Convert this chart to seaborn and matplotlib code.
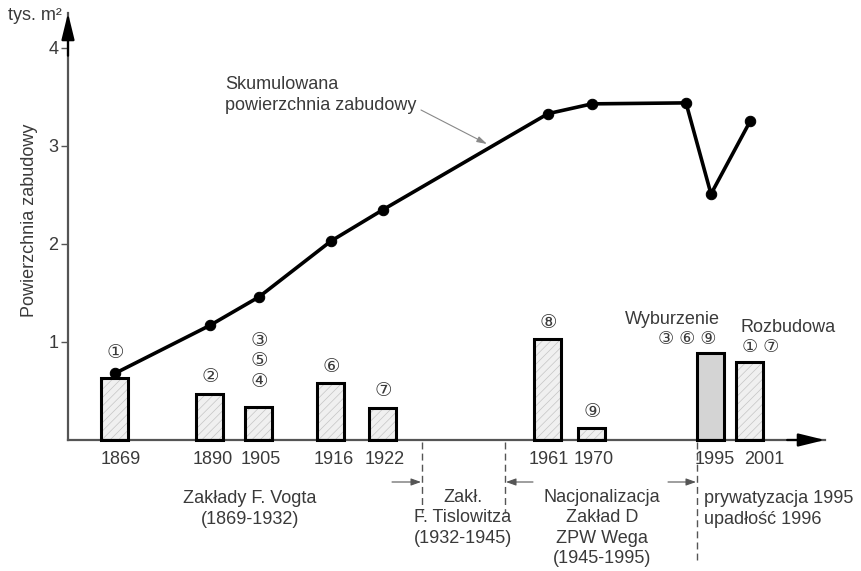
import matplotlib
matplotlib.use("Agg")
import matplotlib.pyplot as plt
import matplotlib.transforms as mtransforms
from matplotlib.lines import Line2D
from matplotlib.patches import Rectangle
import seaborn as sns
import pandas as pd

# ==== DATA ====
bar_years = [1869, 1890, 1905, 1916, 1922, 1961, 1970, 1995, 2001]
bar_values = [0.63, 0.47, 0.34, 0.58, 0.33, 1.03, 0.12, 0.89, 0.80]
bar_kind = ["budowa"] * 7 + ["wyburzenie", "budowa"]
bar_marks = ["①", "②", "③\n⑤\n④", "⑥", "⑦", "⑧", "⑨", "", ""]

line_years = [1869, 1890, 1905, 1916, 1922, 1961, 1970, 1994, 1995, 2001]
line_values = [0.68, 1.17, 1.46, 2.03, 2.35, 3.33, 3.43, 3.44, 2.51, 3.25]

periods = ["Zakłady F. Vogta\n(1869-1932)",
           "Zakł.\nF. Tislowitza\n(1932-1945)",
           "Nacjonalizacja\nZakład D\nZPW Wega\n(1945-1995)",
           "prywatyzacja 1995\nupadłość 1996"]

# ==== LAYOUT (schematic, non-linear time axis, in pixels) ====
xpos = {1869: 115, 1890: 210, 1905: 259, 1916: 331, 1922: 383,
        1961: 548, 1970: 592, 1994: 686, 1995: 711, 2001: 750}
label_shift = [6, 3, 2, 3, 2, 1, 2, 4, 14]   # tick label nudges, px
W, H = 862, 571
X0, X1 = 68, 825          # axis start / arrow tip
Y0, PX_UNIT = 440, 98     # baseline pixel row, pixels per 1000 m2
BAR_W = 27
txt = "#3a3a3a"
fs = 13
cfs = 14  # circled numbers

sns.set_style("white")
plt.rcParams["font.family"] = ["Liberation Sans", "DejaVu Sans"]
plt.rcParams["hatch.linewidth"] = 0.5

bars = pd.DataFrame({"pos": [xpos[y] for y in bar_years], "val": bar_values, "kind": bar_kind})
line = pd.DataFrame({"pos": [xpos[y] for y in line_years], "val": line_values})

fig = plt.figure(figsize=(W / 100, H / 100), dpi=100)
ax = fig.add_axes([X0 / W, 1 - Y0 / H, (X1 - X0) / W, (Y0 - 13) / H])

sns.barplot(data=bars, x="pos", y="val", native_scale=True, color="#f0f0f0",
            linewidth=0, edgecolor="#c4c4c4", ax=ax, zorder=2)

# fix bar geometry/style and draw outlines
for p, kind in zip(ax.patches, bar_kind):
    cx = p.get_x() + p.get_width() / 2
    p.set_x(cx - BAR_W / 2)
    p.set_width(BAR_W)
    if kind == "wyburzenie":
        p.set_facecolor("#d4d4d4")
        p.set_hatch("")
    else:
        p.set_facecolor("#f0f0f0")
        p.set_hatch("////")
    ax.add_patch(Rectangle(p.get_xy(), p.get_width(), p.get_height(), fill=False,
                           ec="black", lw=2.2, zorder=3, clip_on=False))

sns.lineplot(data=line, x="pos", y="val", sort=False, color="black", lw=2.6,
             marker="o", markersize=7.5, markeredgecolor="black", ax=ax, zorder=5)

# circled numbers above bars
for x, v, m in zip(bars["pos"], bar_values, bar_marks):
    if not m:
        continue
    off = 25 if m == "①" else 16
    ax.annotate(m, (x, v), xytext=(0, off * 0.72), textcoords="offset points",
                ha="center", va="center" if "\n" not in m else "bottom",
                fontsize=cfs, color=txt, linespacing=1.25,
                annotation_clip=False)

# ==== AXES STYLE ====
ax.set_xlim(X0, X1)
ax.set_ylim(0, (Y0 - 13) / PX_UNIT)
ax.set_xticks(bars["pos"])
ax.set_xticklabels([str(y) for y in bar_years])
ax.set_yticks([1, 2, 3, 4])
ax.tick_params(axis="x", length=0, pad=8, labelsize=fs, labelcolor=txt)
ax.tick_params(axis="y", length=5, width=1, color="#555555", pad=2,
               labelsize=fs, labelcolor=txt, left=True)
for lab, dx in zip(ax.get_xticklabels(), label_shift):
    lab.set_transform(lab.get_transform() +
                      mtransforms.ScaledTranslation(dx / 100, 0, fig.dpi_scale_trans))
ax.set_xlabel("")
ax.set_ylabel("Powierzchnia zabudowy", fontsize=fs, color=txt)
ax.yaxis.set_label_coords((38 - X0) / (X1 - X0), (Y0 - 220) / (Y0 - 13))
sns.despine(ax=ax)
for s in ["left", "bottom"]:
    ax.spines[s].set_color("#555555")
    ax.spines[s].set_linewidth(1.6)
head = "-|>,head_length=0.9,head_width=0.22"
ax.annotate("", xy=(0, 1), xytext=(0, 0.9), xycoords="axes fraction",
            arrowprops=dict(arrowstyle=head, color="black", lw=1.6,
                            shrinkA=0, shrinkB=0, mutation_scale=18))
ax.annotate("", xy=(1, 0), xytext=(0.95, 0), xycoords="axes fraction",
            arrowprops=dict(arrowstyle=head, color="black", lw=1.6,
                            shrinkA=0, shrinkB=0, mutation_scale=18))


# ==== ANNOTATIONS (figure pixels, measured from top) ====
def ftext(x, y, s, ha="center", size=fs, **kw):
    fig.text(x / W, 1 - y / H, s, ha=ha, va="center", fontsize=size,
             color=txt, linespacing=1.25, **kw)


def fline(x1, y1, x2, y2, **kw):
    fig.add_artist(Line2D([x1 / W, x2 / W], [1 - y1 / H, 1 - y2 / H],
                          transform=fig.transFigure, **kw))


def farrow(x1, y, x2):
    ax.annotate("", xy=(x2, H - y), xytext=(x1, H - y), xycoords="figure pixels",
                arrowprops=dict(arrowstyle="-|>,head_length=0.5,head_width=0.18",
                                color="#555555", lw=0.8, shrinkA=0, shrinkB=0,
                                mutation_scale=12))


ftext(8, 15, "tys. m²", ha="left")
ftext(225, 95, "Skumulowana\npowierzchnia zabudowy", ha="left")
ax.annotate("", xy=(487, H - 144), xytext=(421, H - 110), xycoords="figure pixels",
            arrowprops=dict(arrowstyle="-|>,head_length=0.5,head_width=0.15",
                            color="#888888", lw=0.8, shrinkA=0, shrinkB=0,
                            mutation_scale=12))

ftext(672, 319, "Wyburzenie")
ftext(687, 339, "③ ⑥ ⑨", size=cfs - 1)
ftext(788, 327, "Rozbudowa")
ftext(761, 348, "① ⑦", size=cfs - 1)

ftext(250, 509, periods[0])
ftext(463, 518, periods[1])
ftext(602, 528, periods[2])
ftext(704, 509, periods[3], ha="left")

dash = dict(color="#555555", lw=1, linestyle=(0, (5, 3)))
fline(422, 442, 422, 513, **dash)
fline(505, 442, 505, 513, **dash)
fline(697, 442, 697, 560, **dash)
farrow(392, 482, 421)
farrow(533, 482, 506)
farrow(668, 482, 696)

fig.savefig("out.png", dpi=100)
